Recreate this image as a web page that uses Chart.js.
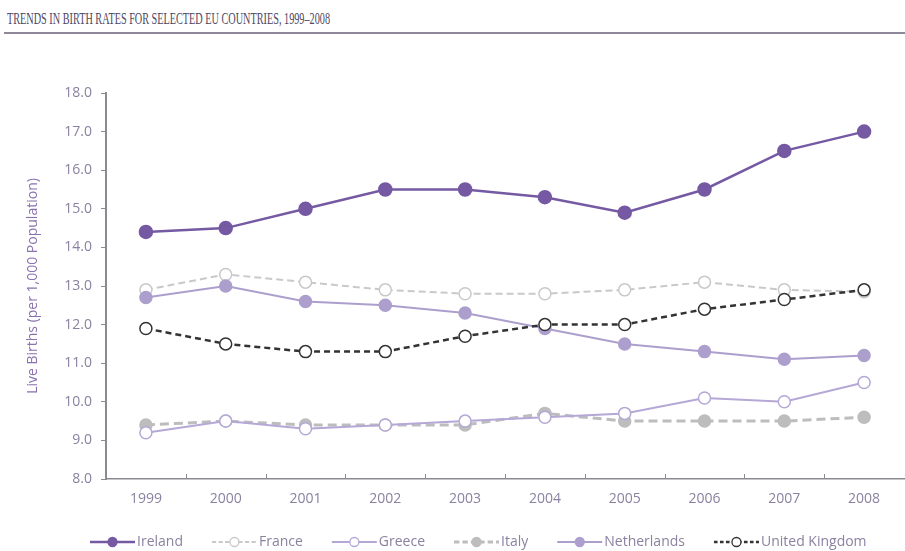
<!DOCTYPE html>
<html lang="en">
<head>
    <meta charset="UTF-8">
    <meta name="viewport" content="width=device-width, initial-scale=1.0">
    <title>Birth rates | EU 1999-2008</title>
    <script src="https://cdn.jsdelivr.net/npm/chart.js"></script>
    <style>
        body {
            margin: 0;
            width: 905px;
            height: 551px;
            overflow: hidden;
            background: #ffffff;
            position: relative;
        }
        .titulo {
            position: absolute;
            left: 7px;
            top: 9px;
            font-family: "Liberation Serif", serif;
            font-size: 16.5px;
            color: #4d4862;
            white-space: nowrap;
            transform: scaleX(0.62);
            transform-origin: 0 0;
        }
        .linha {
            position: absolute;
            left: 4px;
            right: 0;
            top: 32px;
            height: 2px;
            background: #8e889a;
        }
        .grafico {
            position: absolute;
            left: 0;
            top: 60px;
        }
    </style>
</head>

<body>
    <div class="titulo">TRENDS IN BIRTH RATES FOR SELECTED EU COUNTRIES, 1999–2008</div>
    <div class="linha"></div>
    <div class="grafico">
        <canvas id="myChartCanvas1" width="912" height="491"></canvas>
    </div>

    <script>
        // anos e taxas de natalidade (nascidos vivos por 1.000 habitantes)
        const anos = ['1999', '2000', '2001', '2002', '2003', '2004', '2005', '2006', '2007', '2008'];
        const ireland = [14.4, 14.5, 15.0, 15.5, 15.5, 15.3, 14.9, 15.5, 16.5, 17.0];
        const france = [12.9, 13.3, 13.1, 12.9, 12.8, 12.8, 12.9, 13.1, 12.9, 12.85];
        const greece = [9.2, 9.5, 9.3, 9.4, 9.5, 9.6, 9.7, 10.1, 10.0, 10.5];
        const italy = [9.4, 9.5, 9.4, 9.4, 9.4, 9.7, 9.5, 9.5, 9.5, 9.6];
        const netherlands = [12.7, 13.0, 12.6, 12.5, 12.3, 11.9, 11.5, 11.3, 11.1, 11.2];
        const unitedKingdom = [11.9, 11.5, 11.3, 11.3, 11.7, 12.0, 12.0, 12.4, 12.65, 12.9];
        const yMin = 8;
        const yMax = 18;

        const corEixo = '#8c8a90';
        const corTexto = '#8a82a0';
        const fonte = '"Open Sans", sans-serif';

        function serie(label, data, cor, opcoes) {
            return Object.assign({
                label: label,
                data: data,
                borderColor: cor,
                backgroundColor: cor,
                pointBackgroundColor: cor,
                pointBorderColor: cor,
                borderWidth: 2,
                pointRadius: 6,
                pointBorderWidth: 1.5,
                pointHoverRadius: 6,
                tension: 0,
                fill: false
            }, opcoes);
        }

        const dados = {
            labels: anos,
            datasets: [
                serie('Ireland', ireland, '#7559a3', { borderWidth: 2.5, pointRadius: 6.5, order: 1 }),
                serie('France', france, '#c9c9c9', { borderDash: [7, 4], pointBackgroundColor: '#ffffff', order: 5 }),
                serie('Greece', greece, '#b5a8d6', { pointBackgroundColor: '#ffffff', order: 3 }),
                serie('Italy', italy, '#bdbdbd', { borderWidth: 3, borderDash: [9, 5], order: 4 }),
                serie('Netherlands', netherlands, '#ad9fcd', { order: 2 }),
                serie('United Kingdom', unitedKingdom, '#333333', { borderWidth: 2.5, borderDash: [6, 4], pointBackgroundColor: '#ffffff', order: 0 })
            ]
        };

        // pequenos traços no eixo x, entre as categorias, virados para cima
        const tracosEixoX = {
            id: 'tracosEixoX',
            afterDraw(chart) {
                const ctx = chart.ctx;
                const area = chart.chartArea;
                const passo = (area.right - area.left) / anos.length;
                ctx.save();
                ctx.strokeStyle = corEixo;
                ctx.lineWidth = 1;
                for (let i = 1; i < anos.length; i++) {
                    const x = Math.round(area.left + i * passo) + 0.5;
                    ctx.beginPath();
                    ctx.moveTo(x, area.bottom);
                    ctx.lineTo(x, area.bottom - 5);
                    ctx.stroke();
                }
                ctx.restore();
            }
        };

        // legenda desenhada à mão: amostra da linha (com tracejado) + marcador + nome
        const legendaLinhas = {
            id: 'legendaLinhas',
            afterDraw(chart) {
                const ctx = chart.ctx;
                const y = 482;
                let x = 90;
                ctx.save();
                ctx.font = '14px ' + fonte;
                ctx.textBaseline = 'middle';
                chart.data.datasets.forEach(function (ds) {
                    ctx.strokeStyle = ds.borderColor;
                    ctx.lineWidth = ds.borderWidth;
                    ctx.setLineDash(ds.borderDash ? ds.borderDash.map(v => v * 0.6) : []);
                    ctx.beginPath();
                    ctx.moveTo(x, y);
                    ctx.lineTo(x + 45, y);
                    ctx.stroke();
                    ctx.setLineDash([]);
                    ctx.beginPath();
                    ctx.arc(x + 22.5, y, 4.5, 0, Math.PI * 2);
                    ctx.fillStyle = ds.pointBackgroundColor;
                    ctx.fill();
                    ctx.lineWidth = 1.3;
                    ctx.strokeStyle = ds.pointBorderColor;
                    ctx.stroke();
                    ctx.fillStyle = corTexto;
                    ctx.fillText(ds.label, x + 47, y);
                    x += 47 + ctx.measureText(ds.label).width + 29;
                });
                ctx.restore();
            }
        };

        const config = {
            type: 'line',
            data: dados,
            plugins: [tracosEixoX, legendaLinhas],
            options: {
                responsive: false,
                animation: false,
                devicePixelRatio: 1,
                layout: {
                    padding: { left: 25, top: 33, right: 2, bottom: 42 }
                },
                plugins: {
                    legend: { display: false },
                    tooltip: { enabled: false }
                },
                scales: {
                    x: {
                        offset: true,
                        grid: { display: false, drawTicks: false },
                        border: { display: true, color: corEixo, width: 1.5 },
                        ticks: {
                            color: corTexto,
                            font: { family: fonte, size: 14 },
                            padding: 12,
                            maxRotation: 0
                        },
                        afterFit(scale) { scale.height = 30; }
                    },
                    y: {
                        min: yMin,
                        max: yMax,
                        ticks: {
                            stepSize: 1,
                            color: corTexto,
                            font: { family: fonte, size: 14 },
                            padding: 9,
                            callback: function (v) { return v.toFixed(1); }
                        },
                        grid: {
                            drawOnChartArea: false,
                            drawTicks: true,
                            tickLength: 5,
                            color: corEixo
                        },
                        border: { display: true, color: corEixo, width: 2 },
                        title: {
                            display: true,
                            text: 'Live Births (per 1,000 Population)',
                            color: '#8a72ad',
                            font: { family: fonte, size: 14 },
                            padding: 0
                        },
                        afterFit(scale) { scale.width = 81; }
                    }
                }
            }
        };

        let myChart = new Chart(
            document.getElementById('myChartCanvas1'),
            config
        );
    </script>
</body>

</html>
